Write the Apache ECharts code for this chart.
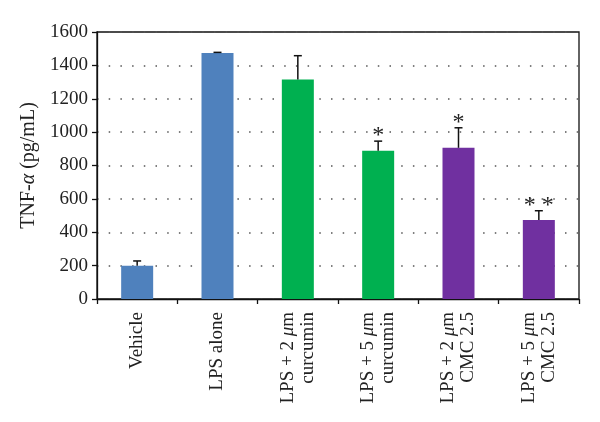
<!DOCTYPE html>
<html>
<head>
<meta charset="utf-8">
<script src="https://cdn.jsdelivr.net/npm/echarts@6/dist/echarts.min.js"></script>
<style>
  html, body { margin: 0; padding: 0; background: #fff; }
  #chart { width: 600px; height: 422px; }
</style>
</head>
<body>
<div id="chart"></div>
<script>
// 数据
const categories = [
  '{t|Vehicle}',
  '{t|LPS alone}',
  '{t|LPS + 2 }{i|μ}{t|m}\n{t|curcumin}',
  '{t|LPS + 5 }{i|μ}{t|m}\n{t|curcumin}',
  '{t|LPS + 2 }{i|μ}{t|m}\n{t|CMC 2.5}',
  '{t|LPS + 5 }{i|μ}{t|m}\n{t|CMC 2.5}'
]
const means = [200, 1474, 1316, 888, 906, 473]
const errors = [28, 4, 142, 58, 120, 56]
const stars = ['', '', '', '*', '*', '* *']
const barColors = ['#4f81bd', '#4f81bd', '#00b050', '#00b050', '#7030a0', '#7030a0']

const serif = '"Liberation Serif", "DejaVu Serif", serif'

let myChart = echarts.init(document.getElementById('chart'))
let option = {
  animation: false,
  grid: {
    left: 97,
    right: 21,
    top: 32,
    bottom: 123,
    show: true,
    borderColor: '#111',
    borderWidth: 1.3
  },
  xAxis: {
    type: 'category',
    data: categories,
    axisLine: { lineStyle: { color: '#111', width: 1.3 } },
    axisTick: { show: true, length: 5, inside: false, lineStyle: { color: '#111', width: 1.3 } },
    axisLabel: {
      rotate: 90,
      margin: 13,
      interval: 0,
      rich: {
        t: { fontFamily: serif, fontSize: 19, color: '#222', lineHeight: 20 },
        i: { fontFamily: serif, fontSize: 19, color: '#222', fontStyle: 'italic', lineHeight: 20 }
      }
    }
  },
  yAxis: {
    type: 'value',
    min: 0,
    max: 1600,
    interval: 200,
    name: '{t|TNF-}{i|α}{t| (pg/mL)}',
    nameLocation: 'middle',
    nameGap: 52,
    nameRotate: 90,
    nameTextStyle: {
      rich: {
        t: { fontFamily: serif, fontSize: 20, color: '#222' },
        i: { fontFamily: serif, fontSize: 20, color: '#222', fontStyle: 'italic' }
      }
    },
    axisLine: { show: true, lineStyle: { color: '#111', width: 1.3 } },
    axisTick: { show: true, length: 5, lineStyle: { color: '#111', width: 1.3 } },
    axisLabel: {
      fontFamily: serif,
      fontSize: 19,
      color: '#222',
      margin: 9,
      formatter: v => String(v)
    },
    splitLine: {
      show: true,
      lineStyle: { color: '#555', width: 1.5, type: [1.5, 10.2] }
    }
  },
  series: [
    {
      type: 'bar',
      barWidth: 32,
      data: means.map((v, i) => ({ value: v, itemStyle: { color: barColors[i] } })),
      z: 3
    },
    {
      type: 'custom',
      z: 4,
      data: means.map((v, i) => [i, v, v + errors[i]]),
      renderItem(params, api) {
        const p0 = api.coord([api.value(0), api.value(1)])
        const p1 = api.coord([api.value(0), api.value(2)])
        const star = stars[params.dataIndex]
        const style = { stroke: '#111', lineWidth: 1.5 }
        const children = [
          { type: 'line', shape: { x1: p0[0], y1: p0[1], x2: p1[0], y2: p1[1] }, style },
          { type: 'line', shape: { x1: p1[0] - 4, y1: p1[1], x2: p1[0] + 4, y2: p1[1] }, style }
        ]
        if (star) {
          children.push({
            type: 'text',
            style: {
              text: star,
              x: p1[0],
              y: p1[1] + 7,
              align: 'center',
              verticalAlign: 'bottom',
              font: '24px ' + serif,
              fill: '#222'
            }
          })
        }
        return { type: 'group', children }
      }
    }
  ]
}
myChart.setOption(option, true)
</script>
</body>
</html>
